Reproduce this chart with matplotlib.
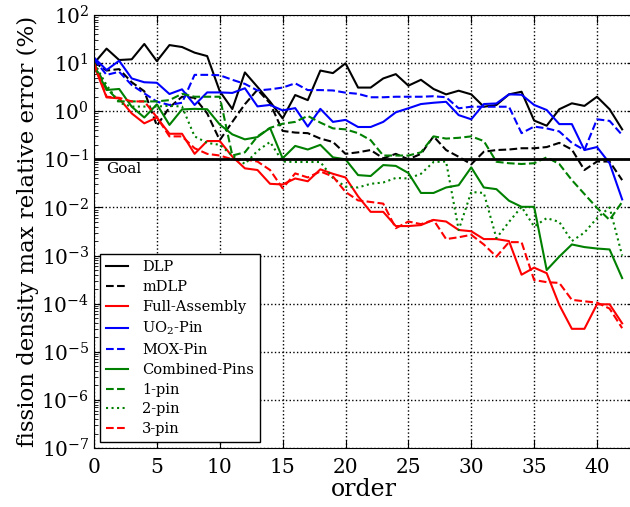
import numpy as np
import matplotlib
matplotlib.use("Agg")
import matplotlib.pyplot as plt

plt.rcParams['font.family'] = ['DejaVu Serif']
plt.rcParams['mathtext.fontset'] = 'dejavuserif'

order = list(range(43))

dlp = [9.9, 20, 11.6, 12, 25, 11, 23.7, 21.6, 16.5, 14, 2.6, 1.11, 6.4, 3.2, 1.58, 0.71, 2.17, 1.7, 7.0, 6.2, 9.9,
       3.1, 3.1, 4.8, 5.9, 3.4, 4.5, 2.9, 2.24, 2.67, 2.24, 1.24, 1.35, 2.24, 2.54, 0.64, 0.5, 1.1, 1.46, 1.29, 2.0, 1.1, 0.42]
mdlp = [10.5, 7.0, 7.5, 4.0, 2.6, 0.5, 1.2, 2.0, 1.9, 0.9, 0.25, 0.6, 1.4, 2.8, 1.46, 0.39, 0.36, 0.35, 0.27, 0.23, 0.13,
        0.14, 0.156, 0.105, 0.13, 0.1, 0.13, 0.3, 0.156, 0.113, 0.079, 0.144, 0.156, 0.16, 0.17, 0.17, 0.18, 0.22, 0.16, 0.06, 0.09, 0.09, 0.037]
full_assembly = [9.0, 1.94, 1.85, 0.9, 0.56, 0.74, 0.34, 0.34, 0.13, 0.24, 0.24, 0.114, 0.065, 0.06, 0.031, 0.03, 0.04, 0.035, 0.062, 0.05, 0.042,
                 0.017, 0.0081, 0.0081, 0.0041, 0.0041, 0.0043, 0.0055, 0.0051, 0.0034, 0.0032, 0.0022, 0.0022, 0.002, 0.0004, 0.00056, 0.00043,
                 9.4e-5, 3.0e-5, 3.0e-5, 9.7e-5, 9.7e-5, 3.9e-5]
uo2_pin = [13, 7.2, 11.2, 4.8, 4.0, 3.9, 2.28, 2.85, 1.35, 2.46, 2.46, 2.4, 3.0, 1.26, 1.35, 1.04, 1.16, 0.48, 1.12, 0.6, 0.66,
           0.47, 0.47, 0.6, 0.95, 1.15, 1.41, 1.5, 1.57, 0.83, 0.68, 1.41, 1.45, 2.24, 2.2, 1.35, 1.06, 0.54, 0.54, 0.156, 0.18, 0.083, 0.0147]
mox_pin = [12, 5.7, 6.6, 3.5, 2.35, 1.58, 1.35, 1.5, 5.7, 5.7, 5.6, 4.5, 3.7, 2.7, 2.85, 3.1, 3.8, 2.75, 2.75, 2.7, 2.43,
           2.3, 1.95, 1.95, 2.0, 2.0, 2.0, 2.05, 1.95, 1.15, 1.24, 1.24, 1.24, 1.24, 0.35, 0.48, 0.44, 0.38, 0.22, 0.156, 0.68, 0.63, 0.32]
combined_pins = [9.2, 2.76, 2.9, 1.24, 0.74, 1.39, 0.52, 1.09, 1.12, 1.1, 0.53, 0.33, 0.26, 0.29, 0.45, 0.105, 0.19, 0.16, 0.2, 0.11, 0.1,
                 0.047, 0.045, 0.076, 0.073, 0.052, 0.02, 0.02, 0.026, 0.029, 0.068, 0.026, 0.024, 0.0138, 0.0103, 0.0103, 0.0005,
                 0.00095, 0.0017, 0.0015, 0.0014, 0.00134, 0.00034]
one_pin = [10, 3.0, 1.6, 1.6, 1.6, 1.6, 1.7, 2.3, 2.0, 2.0, 2.0, 0.12, 0.14, 0.3, 0.45, 0.55, 0.6, 0.8, 0.58, 0.44, 0.42,
           0.35, 0.25, 0.12, 0.12, 0.12, 0.14, 0.3, 0.27, 0.28, 0.3, 0.24, 0.089, 0.083, 0.08, 0.083, 0.11, 0.08, 0.037, 0.019, 0.0098, 0.0055, 0.013]
two_pin = [10, 3.5, 1.5, 1.25, 1.25, 1.25, 1.3, 1.25, 0.3, 0.22, 0.2, 0.12, 0.08, 0.15, 0.23, 0.09, 0.088, 0.088, 0.088, 0.041, 0.027,
           0.026, 0.031, 0.033, 0.041, 0.04, 0.05, 0.088, 0.09, 0.0034, 0.021, 0.02, 0.0023, 0.005, 0.0103, 0.004, 0.006, 0.005, 0.002, 0.003, 0.006, 0.01, 0.001]
three_pin = [10, 2.0, 1.9, 1.6, 1.6, 0.75, 0.3, 0.3, 0.17, 0.13, 0.12, 0.1, 0.1, 0.09, 0.06, 0.025, 0.051, 0.042, 0.056, 0.044, 0.021,
             0.014, 0.013, 0.012, 0.0037, 0.0051, 0.0045, 0.0055, 0.0022, 0.0024, 0.0027, 0.0017, 0.00095, 0.0019, 0.0019, 0.00031, 0.00028,
             0.00027, 0.00012, 0.000112, 0.000105, 7.9e-5, 3.1e-5]

goal = 0.1
xticks = [0, 5, 10, 15, 20, 25, 30, 35, 40]
yticks = [1e-7, 1e-6, 1e-5, 1e-4, 1e-3, 1e-2, 1e-1, 1e0, 1e1, 1e2]

fig = plt.figure(figsize=(6.3, 5.07), dpi=100)
ax = fig.add_axes([94/630, (507-448)/507, (43*12.575)/630, 433/507])

lw = 1.5
ax.plot(order, dlp, color='black', ls='-', lw=lw, label='DLP')
ax.plot(order, mdlp, color='black', ls='--', lw=lw, label='mDLP')
ax.plot(order, full_assembly, color='red', ls='-', lw=lw, label='Full-Assembly')
ax.plot(order, uo2_pin, color='blue', ls='-', lw=lw, label=r'UO$_2$-Pin')
ax.plot(order, mox_pin, color='blue', ls='--', lw=lw, label='MOX-Pin')
ax.plot(order, combined_pins, color='green', ls='-', lw=lw, label='Combined-Pins')
ax.plot(order, one_pin, color='green', ls='--', lw=lw, label='1-pin')
ax.plot(order, two_pin, color='green', ls=':', lw=lw, label='2-pin')
ax.plot(order, three_pin, color='red', ls='--', lw=lw, label='3-pin')

ax.axhline(goal, color='black', lw=2)
ax.text(1.0, 0.062, 'Goal', fontsize=11, va='center', ha='left')

ax.set_yscale('log')
ax.set_ylim(1e-7, 1e2)
ax.set_xlim(0, 43)
ax.set_xticks(xticks)
ax.set_yticks(yticks)
ax.yaxis.set_minor_locator(matplotlib.ticker.LogLocator(base=10, subs=np.arange(2, 10), numticks=20))
ax.yaxis.set_minor_formatter(matplotlib.ticker.NullFormatter())
ax.grid(True, which='major', ls=':', color='black', lw=1)
ax.tick_params(which='both', direction='in', top=True, right=True, labelsize=14.5)
ax.tick_params(which='major', length=6)
ax.tick_params(which='minor', length=3)
ax.tick_params(axis='x', pad=7)
ax.set_xlabel('order', fontsize=17, labelpad=1)
ax.set_ylabel('fission density max relative error (%)', fontsize=16.5, labelpad=2)

leg = ax.legend(loc='lower left', fontsize=10.5, fancybox=False, framealpha=1, edgecolor='black',
                handlelength=1.5, handletextpad=1.0, labelspacing=0.4, borderaxespad=0.4)
leg.get_frame().set_linewidth(1)

fig.savefig('out.png', dpi=100)
